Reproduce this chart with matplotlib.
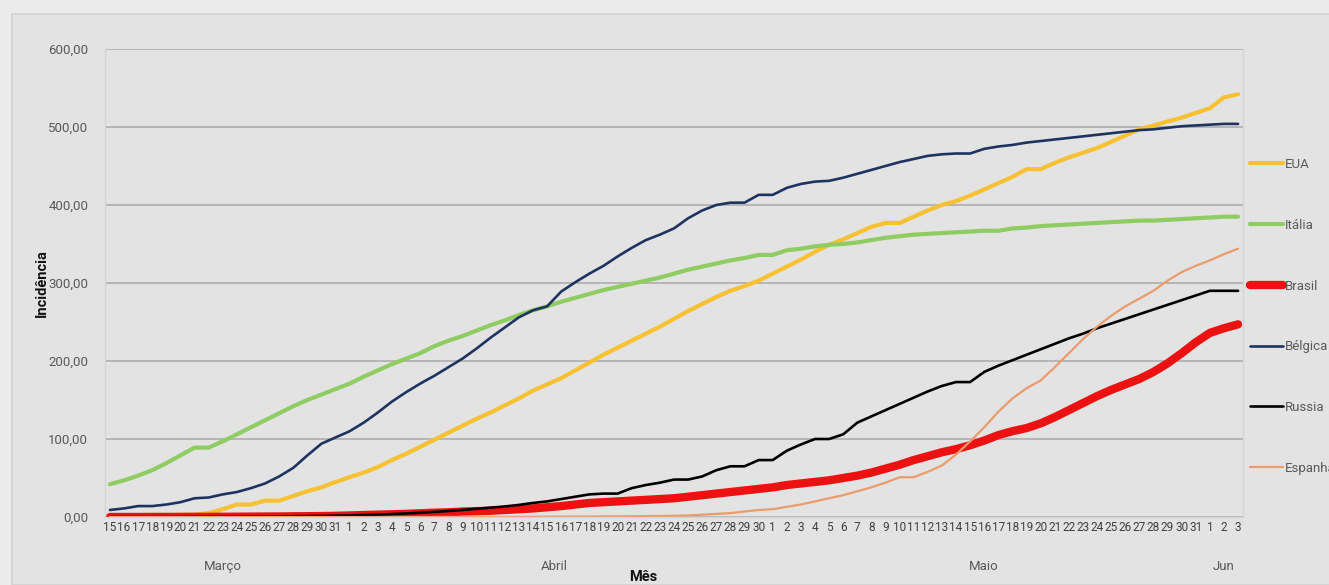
import matplotlib
matplotlib.use("Agg")
import matplotlib.pyplot as plt
from matplotlib.patches import Rectangle
from matplotlib.ticker import FuncFormatter
import numpy as np

# days from 15 March to 3 June
dias = list(range(15, 32)) + list(range(1, 31)) + list(range(1, 32)) + [1, 2, 3]
meses = ["Março", "Abril", "Maio", "Jun"]
dias_por_mes = [17, 30, 31, 3]

eua = [1, 1, 1, 2, 2, 3, 3, 5, 10, 16, 16, 21, 21, 27, 33, 38, 45,
       51, 57, 64, 73, 81, 90, 99, 108, 117, 126, 134, 143, 152, 162, 170, 178,
       188, 198, 208, 217, 226, 235, 244, 254, 264, 273, 282, 290, 296, 303,
       312, 321, 330, 340, 349, 356, 364, 372, 377, 377, 385, 393, 400, 405,
       412, 420, 428, 436, 446, 446, 454, 461, 467, 473, 481, 489, 497, 502,
       507, 512, 518, 524, 538, 542]
italia = [42, 47, 53, 60, 69, 79, 89, 89, 97, 106, 115, 124, 133, 142, 150, 157, 164,
          171, 180, 188, 196, 203, 210, 219, 226, 232, 239, 246, 252, 259, 265, 270, 276,
          281, 286, 291, 295, 299, 303, 307, 312, 317, 321, 325, 329, 332, 336,
          336, 342, 344, 347, 349, 350, 352, 355, 358, 360, 362, 363, 364, 365,
          366, 367, 367, 370, 371, 373, 374, 375, 376, 377, 378, 379, 380, 380,
          381, 382, 383, 384, 385, 385]
brasil = [0, 0, 0, 0.1, 0.1, 0.1, 0.2, 0.2, 0.3, 0.4, 0.5, 0.6, 0.7, 0.9, 1.0, 1.2, 1.5,
          2, 2.5, 3, 3.5, 4, 4.8, 5.5, 6, 7, 7.5, 8, 9, 10, 11, 12.5, 14,
          16, 18, 19, 20, 21, 22, 23, 24, 26, 28, 30, 32, 34, 36,
          38, 41, 43, 45, 47, 50, 53, 57, 62, 67, 73, 78, 83, 87,
          92, 98, 105, 110, 114, 120, 128, 137, 146, 155, 163, 170, 177, 186,
          197, 210, 224, 236, 242, 247]
belgica = [9, 11, 14, 14, 16, 19, 24, 25, 29, 32, 37, 43, 52, 63, 79, 94, 102,
           110, 121, 134, 148, 160, 171, 181, 192, 203, 216, 230, 243, 256, 265, 270, 289,
           301, 312, 322, 334, 345, 355, 362, 370, 383, 393, 400, 403, 403, 413,
           413, 422, 427, 430, 431, 435, 440, 445, 450, 455, 459, 463, 465, 466,
           466, 472, 475, 477, 480, 482, 484, 486, 488, 490, 492, 494, 496, 497,
           499, 501, 502, 503, 504, 504]
russia = [0, 0, 0, 0, 0, 0.1, 0.2, 0.2, 0.3, 0.4, 0.5, 0.6, 0.8, 1.0, 1.2, 1.4, 1.7,
          2, 2.5, 3, 3.7, 4.5, 5.5, 6.5, 7.7, 9, 10.5, 12, 13.5, 15.5, 18, 20, 23,
          26, 29, 30, 30, 37, 41, 44, 48, 48, 52, 60, 65, 65, 73,
          73, 85, 93, 100, 100, 106, 121, 129, 137, 145, 153, 161, 168, 173,
          173, 186, 194, 201, 208, 215, 222, 229, 235, 242, 248, 254, 260, 266,
          272, 278, 284, 290, 290, 290]
espanha = [0, 0, 0, 0, 0, 0, 0, 0, 0, 0, 0, 0, 0, 0, 0, 0, 0,
           0, 0, 0, 0, 0, 0, 0, 0.1, 0.1, 0.1, 0.1, 0.2, 0.2, 0.3, 0.4, 0.5,
           0.6, 0.7, 0.8, 0.9, 1.0, 1.2, 1.3, 1.5, 2, 3, 4, 5, 7, 9,
           10, 13, 16, 20, 24, 28, 33, 38, 44, 51, 51, 58, 66, 80,
           97, 115, 135, 152, 165, 175, 192, 210, 228, 244, 258, 270, 280, 290,
           303, 314, 322, 329, 337, 344]

series = [("EUA", eua, "#f7c131", 3.0),
          ("Itália", italia, "#8fcc62", 3.0),
          ("Brasil", brasil, "#ee1111", 6.0),
          ("Bélgica", belgica, "#1f3361", 1.9),
          ("Russia", russia, "#000000", 1.9),
          ("Espanha", espanha, "#eb9c6c", 1.6)]

plt.rcParams['font.family'] = ['Roboto', 'DejaVu Sans']

W, H = 1329, 585
fig = plt.figure(figsize=(W / 100, H / 100), dpi=100, facecolor="#ebebeb")
fig.patches.append(Rectangle((12 / W, 0), 1, 1 - 14 / H, transform=fig.transFigure,
                             facecolor="#e3e3e4", edgecolor="#d2d2d2", lw=1.2, zorder=-10))

ax = fig.add_axes([105 / W, 68 / H, 1138 / W, 468 / H])
ax.set_facecolor("#e3e3e4")
x = np.arange(len(dias))
for nome, vals, cor, lw in series:
    ax.plot(x, vals, color=cor, lw=lw, label=nome, solid_joinstyle="round",
            solid_capstyle="round")

ax.set_xlim(-0.35, 80.35)
ax.set_ylim(0, 600)
ax.set_yticks(range(0, 601, 100))
ax.yaxis.set_major_formatter(FuncFormatter(lambda v, p: f"{v:.2f}".replace(".", ",")))
ax.grid(axis="y", color="#a9a9a9", lw=1.1)
ax.set_axisbelow(True)
for s in ax.spines.values():
    s.set_color("#d4d4d4")
    s.set_linewidth(1)
ax.spines["top"].set_visible(False)
ax.tick_params(axis="y", length=0, pad=12, labelsize=9.5, labelcolor="#595959")
ax.set_xticks(x)
ax.set_xticklabels([str(d) for d in dias])
ax.tick_params(axis="x", length=0, pad=3, labelsize=8.5, labelcolor="#404040")

inicio = 0
for m, n in zip(meses, dias_por_mes):
    ax.text(inicio + (n - 1) / 2, -0.105, m, transform=ax.get_xaxis_transform(),
            ha="center", va="center", fontsize=9.5, color="#595959")
    inicio += n

fig.text(643 / W, 1 - 577 / H, "Mês", ha="center", va="center", fontsize=10.5,
         fontweight="bold", color="#111111")
fig.text(42 / W, 1 - 283 / H, "Incidência", ha="center", va="center", rotation=90,
         fontsize=10.5, fontweight="bold", color="#111111")

leg = ax.legend(loc="upper left", bbox_to_anchor=(1250 / W, 1 - 158 / H),
                bbox_transform=fig.transFigure, frameon=False, fontsize=9.5,
                borderpad=0, borderaxespad=0, handlelength=2.5, handletextpad=0.15,
                labelspacing=3.62)
for t in leg.get_texts():
    t.set_color("#595959")

fig.savefig("out.png", dpi=100, facecolor=fig.get_facecolor())
